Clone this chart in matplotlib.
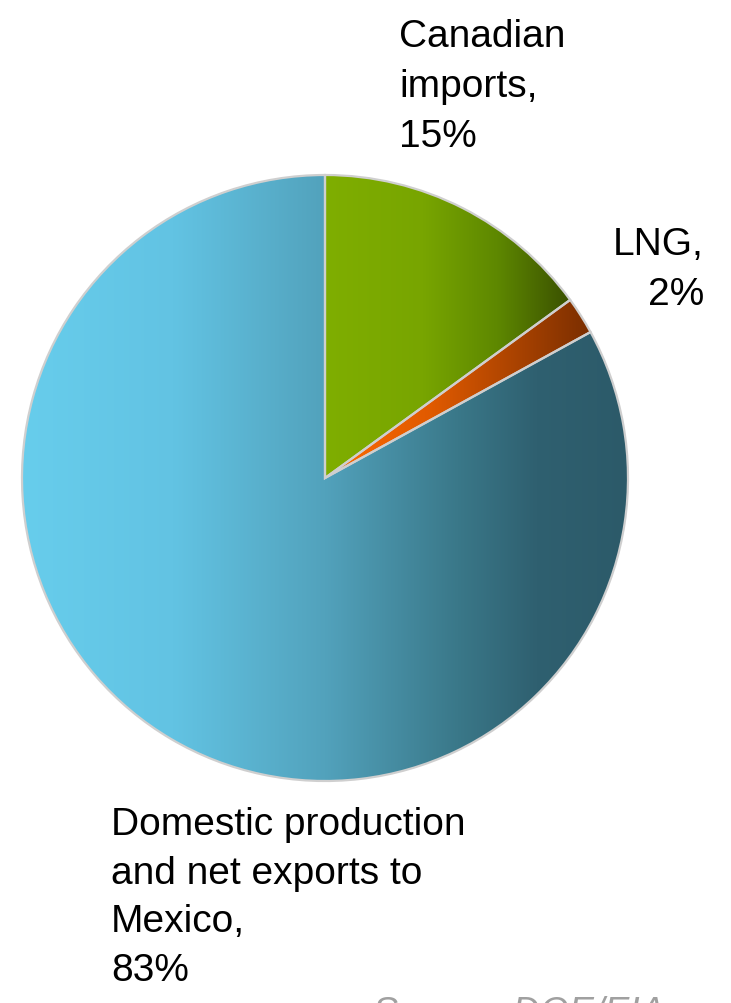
import matplotlib.pyplot as plt
import numpy as np
from matplotlib.colors import LinearSegmentedColormap

labels = ["Canadian\nimports,\n15%", "LNG,\n2%", "Domestic production\nand net exports to\nMexico,\n83%"]
shares = [15, 2, 83]

# horizontal gradient stops per slice (left -> right)
gradients = [
  [(0.0, "#7FAE00"), (0.4, "#78A500"), (0.7, "#5E8800"), (1.0, "#3A5000")],
  [(0.0, "#FF6A00"), (0.4, "#E05A00"), (1.0, "#7A2E00")],
  [(0.0, "#67CDEC"), (0.25, "#62C3E3"), (0.5, "#52A2BC"), (0.72, "#3A7889"), (0.85, "#2F6070"), (1.0, "#2C5A69")],
]

W, H = 731, 1004
plt.rcParams['font.family'] = ['Liberation Sans', 'DejaVu Sans']

fig = plt.figure(figsize=(W / 100, H / 100), dpi=100)
ax = fig.add_axes([0, 0, 1, 1])

wedges, _ = ax.pie(shares, center=(325, H - 479), radius=303, startangle=90,
                   counterclock=False, frame=True,
                   wedgeprops=dict(edgecolor="#CFCFCF", linewidth=1.6))

for w, stops in zip(wedges, gradients):
  cmap = LinearSegmentedColormap.from_list("g", stops)
  ext = w.get_path().get_extents()
  grad = np.linspace(0, 1, 256).reshape(1, -1)
  im = ax.imshow(grad, cmap=cmap, aspect="auto", interpolation="bilinear",
                 extent=[ext.x0, ext.x1, ext.y0, ext.y1], zorder=1)
  im.set_clip_path(w)
  w.set_facecolor("none")
  w.set_zorder(2)

ax.set_xlim(0, W)
ax.set_ylim(0, H)
ax.axis("off")

fs = 28
ls = 1.5
ax.text(399, H - 19, labels[0], fontsize=fs, ha="left", va="top", linespacing=ls)
ax.text(704, H - 227, labels[1], fontsize=fs, ha="right", va="top", multialignment="right", linespacing=ls)
ax.text(111, H - 807, labels[2], fontsize=fs, ha="left", va="top", linespacing=1.45)
ax.text(373, H - 996, "Source: DOE/EIA", fontsize=27, color="#A0A0A0", style="italic",
        ha="left", va="top")

fig.savefig("out.png", dpi=100)
